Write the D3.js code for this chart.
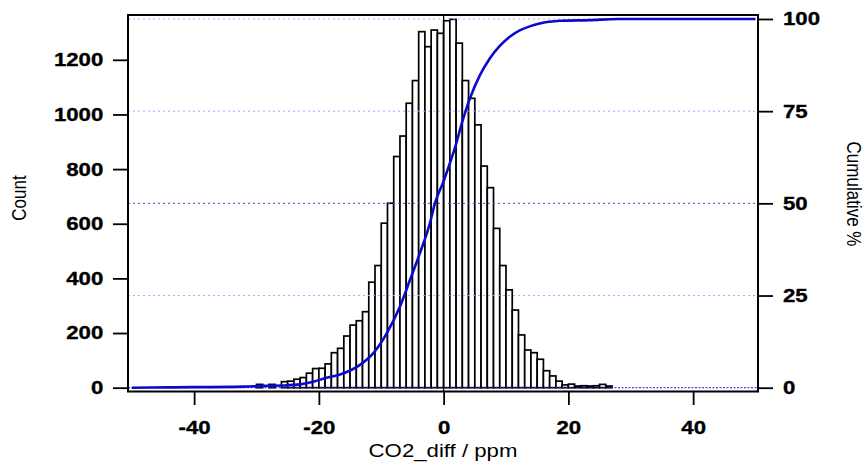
<!DOCTYPE html>
<html>
<head>
<meta charset="utf-8">
<script src="https://cdn.jsdelivr.net/npm/d3@7"></script>
<style>
  body { margin: 0; background: #fff; }
  svg text { font-family: "Liberation Sans", Arial, sans-serif; fill: #000; }
</style>
</head>
<body>
<div class="board"></div>
<script>
(function() {

  // histogram: lower bin edge (ppm), bin width 1
  var binLo = [-30, -29, -28, -27, -26, -25, -24, -23, -22, -21,
               -20, -19, -18, -17, -16, -15, -14, -13, -12, -11,
               -10, -9, -8, -7, -6, -5, -4, -3, -2, -1,
               0, 1, 2, 3, 4, 5, 6, 7, 8, 9,
               10, 11, 12, 13, 14, 15, 16, 17, 18, 19,
               20, 21, 22, 23, 24, 25, 26];
  var counts = [12, 0, 12, 0, 22, 24, 31, 37, 53, 70,
                71, 87, 128, 144, 189, 229, 245, 278, 386, 447,
                602, 675, 846, 921, 1041, 1124, 1303, 1248, 1309, 1297,
                1343, 1348, 1261, 1124, 1059, 962, 811, 732, 583, 447,
                358, 284, 193, 138, 128, 104, 62, 43, 24, 10,
                13, 6, 7, 6, 7, 12, 6];

  // cumulative curve
  var cumX   = [-50, -44, -32, -29, -25.7, -23, -20.9, -18.8, -16.6, -13.4, -11.3, -9.1, -7, -5.4, -3.8, -2.2, -1.4, 0, 0.8, 1.9, 2.9, 4.2, 5.8, 7.4, 9, 10.6, 12.2, 13.8, 15.4, 18.7, 23.4, 28, 50];
  var cumPct = [0, 0.1, 0.3, 0.5, 0.6, 0.9, 1.6, 2.7, 3.6, 6.2, 9.3, 14.8, 22.0, 29.2, 36.5, 44.6, 50, 56, 59.9, 65.5, 71.6, 78.4, 84.7, 89.3, 92.7, 95.2, 96.9, 98.0, 98.8, 99.5, 99.7, 100, 100];

  var xTicks = [-40, -20, 0, 20, 40];
  var countTicks = [0, 200, 400, 600, 800, 1000, 1200];
  var pctTicks = [0, 25, 50, 75, 100];

  var W = 867, H = 465;
  var L = 128, R = 758, T = 15, B = 391.5;

  var svg = d3.select('.board')
    .append('svg')
    .attr('width', W)
    .attr('height', H);

  var x = d3.scaleLinear().domain([-50.6, 50.4]).range([L, R]);
  var y = d3.scaleLinear().domain([-14, 1364]).range([B, T]);
  var yp = d3.scaleLinear().domain([-1.03, 101.08]).range([B, T]);

  var bins = binLo.map(function(lo, i) { return { lo: lo, c: counts[i] }; })
    .filter(function(d) { return d.c > 0; });

  svg.append('g').selectAll('rect')
    .data(bins)
    .enter()
    .append('rect')
    .attr('x', function(d) { return x(d.lo); })
    .attr('y', function(d) { return y(d.c); })
    .attr('width', function(d) { return x(d.lo + 1) - x(d.lo); })
    .attr('height', function(d) { return y(0) - y(d.c); })
    .style('fill', '#fff')
    .style('stroke', '#000')
    .style('stroke-width', 1.7);

  // dotted grid from the right axis
  svg.append('g').selectAll('line')
    .data(pctTicks)
    .enter()
    .append('line')
    .attr('x1', L).attr('x2', R)
    .attr('y1', function(d) { return yp(d); })
    .attr('y2', function(d) { return yp(d); })
    .style('stroke', function(d) { return d === 0 ? '#1a1ae0' : (d === 50 ? '#4a4ac8' : '#a8a8ff'); })
    .style('stroke-width', 1)
    .style('stroke-dasharray', function(d) { return d === 0 ? '2,1.5' : '2,3'; });

  // zero line
  svg.append('line')
    .attr('x1', x(0)).attr('x2', x(0))
    .attr('y1', T).attr('y2', B)
    .style('stroke', '#000')
    .style('stroke-width', 1.2);

  var line = d3.line()
    .x(function(d) { return x(d[0]); })
    .y(function(d) { return yp(d[1]); })
    .curve(d3.curveMonotoneX);

  svg.append('path')
    .datum(cumX.map(function(v, i) { return [v, cumPct[i]]; }))
    .attr('d', line)
    .style('fill', 'none')
    .style('stroke', '#0a0acc')
    .style('stroke-width', 2.6);

  // frame
  svg.append('rect')
    .attr('x', L).attr('y', T)
    .attr('width', R - L).attr('height', B - T)
    .style('fill', 'none')
    .style('stroke', '#000')
    .style('stroke-width', 2);

  var fmt = function(d) { return String(d).replace('\u2212', '-'); };

  function styleAxis(g) {
    g.select('.domain').remove();
    g.selectAll('.tick line').style('stroke', '#000').style('stroke-width', 1.8);
    g.selectAll('.tick text')
      .style('font-size', '18.5px')
      .style('font-weight', 'bold')
      .style('fill', '#000')
      .style('stroke', '#000')
      .style('stroke-width', 0.35);
  }

  var gl = svg.append('g')
    .attr('transform', 'translate(' + L + ',0)')
    .call(d3.axisLeft(y).tickValues(countTicks).tickFormat(fmt).tickSize(15))
    .call(styleAxis);
  gl.selectAll('.tick text')
    .attr('x', null)
    .attr('transform', 'translate(-24.7,0) scale(1.2,1)');

  var gr = svg.append('g')
    .attr('transform', 'translate(' + R + ',0)')
    .call(d3.axisRight(yp).tickValues(pctTicks).tickFormat(fmt).tickSize(15))
    .call(styleAxis);
  gr.selectAll('.tick text')
    .attr('x', null)
    .attr('transform', 'translate(25,0) scale(1.2,1)');

  var gb = svg.append('g')
    .attr('transform', 'translate(0,' + B + ')')
    .call(d3.axisBottom(x).tickValues(xTicks).tickFormat(fmt).tickSize(13.5))
    .call(styleAxis);
  gb.selectAll('.tick text')
    .attr('y', 29.4)
    .attr('transform', 'scale(1.2,1)');

  // axis titles
  svg.append('text')
    .attr('transform', 'translate(' + ((L + R) / 2) + ',457) scale(1.2,1)')
    .style('text-anchor', 'middle')
    .style('font-size', '18.5px')
    .text('CO2_diff / ppm');

  svg.append('text')
    .attr('transform', 'translate(25.5,198) rotate(-90) scale(1,1.2)')
    .style('text-anchor', 'middle')
    .style('font-size', '17px')
    .text('Count');

  svg.append('text')
    .attr('transform', 'translate(847,194) rotate(90) scale(1,1.2)')
    .style('text-anchor', 'middle')
    .style('font-size', '17px')
    .text('Cumulative %');

})();
</script>
</body>
</html>
